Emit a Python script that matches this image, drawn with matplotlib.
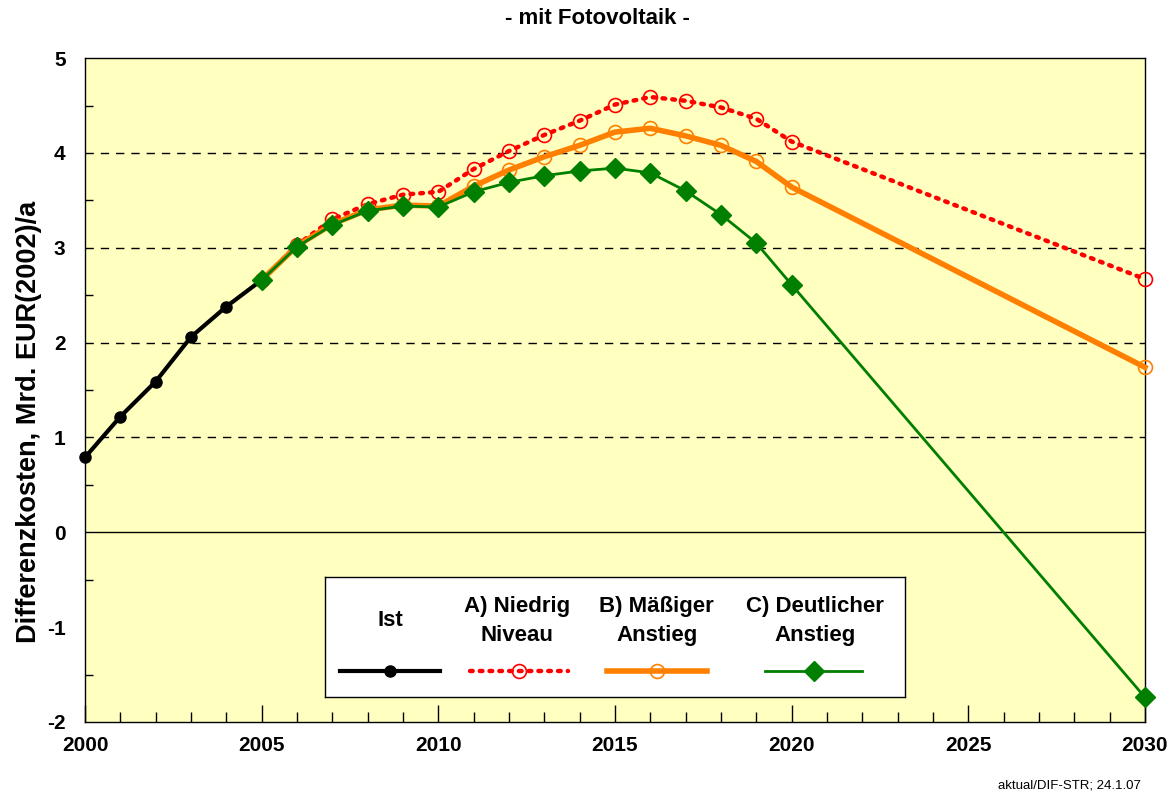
import matplotlib
matplotlib.use("Agg")
import matplotlib.pyplot as plt
from matplotlib.lines import Line2D
import numpy as np

plt.rcParams['font.family'] = ['Liberation Sans', 'DejaVu Sans']
plt.rcParams['font.weight'] = 'bold'
plt.rcParams['axes.unicode_minus'] = False

# Ist-Werte
years_ist = [2000, 2001, 2002, 2003, 2004, 2005]
ist = [0.79, 1.22, 1.59, 2.06, 2.38, 2.66]

# Szenarien ab 2005 (jährlich bis 2020, dann 2030)
years_sz = [2005, 2006, 2007, 2008, 2009, 2010, 2011, 2012, 2013, 2014,
            2015, 2016, 2017, 2018, 2019, 2020, 2030]
niedrig = [2.66, 3.03, 3.30, 3.46, 3.56, 3.59, 3.83, 4.02, 4.19, 4.34,
           4.51, 4.59, 4.55, 4.48, 4.36, 4.12, 2.67]
maessig = [2.66, 3.02, 3.25, 3.40, 3.45, 3.44, 3.65, 3.82, 3.96, 4.08,
           4.22, 4.26, 4.18, 4.08, 3.91, 3.64, 1.74]
deutlich = [2.66, 3.01, 3.24, 3.39, 3.44, 3.43, 3.59, 3.69, 3.76, 3.81,
            3.84, 3.79, 3.60, 3.35, 3.05, 2.61, -1.74]

labels = ['Ist', 'A) Niedrig\nNiveau', 'B) Mäßiger\nAnstieg', 'C) Deutlicher\nAnstieg']

sty_ist = dict(color='black', lw=3, marker='o', ms=8, mfc='black', mec='black')
sty_a = dict(color='#ff0000', lw=3.2, ls=(0, (0.6, 1.6)), dash_capstyle='round',
             marker='o', ms=10, mfc='none', mec='#ff0000', mew=1.2)
sty_b = dict(color='#ff8000', lw=4, marker='o', ms=10, mfc='none', mec='#ff8000', mew=1.2)
sty_c = dict(color='#007f00', lw=2, marker='D', ms=10, mfc='#007f00', mec='#007f00')

fig = plt.figure(figsize=(11.76, 7.96), dpi=100)
ax = fig.add_axes([0.0723, 0.093, 0.9013, 0.834])
ax.set_facecolor('#ffffc0')

ax.plot(years_sz, niedrig, zorder=3, clip_on=False, **sty_a)
ax.plot(years_sz, maessig, zorder=4, clip_on=False, **sty_b)
ax.plot(years_ist, ist, zorder=5, clip_on=False, **sty_ist)
ax.plot(years_sz, deutlich, zorder=6, clip_on=False, **sty_c)

ax.set_xlim(2000, 2030)
ax.set_ylim(-2, 5)
ax.set_xticks(np.arange(2000, 2031, 5))
ax.set_xticks(np.arange(2000, 2031, 1), minor=True)
ax.set_yticks(np.arange(-2, 5.1, 1))
ax.set_yticks(np.arange(-2, 5.1, 0.5), minor=True)
ax.tick_params(axis='x', which='major', direction='in', length=12, width=1, pad=10, labelsize=15)
ax.tick_params(axis='x', which='minor', direction='in', length=7, width=1)
ax.tick_params(axis='y', which='major', direction='in', length=0, pad=14, labelsize=15)
ax.tick_params(axis='y', which='minor', direction='in', length=6, width=1)
for lab in ax.get_xticklabels() + ax.get_yticklabels():
    lab.set_fontweight('bold')

for v in [1, 2, 3, 4]:
    ax.axhline(v, color='black', lw=1, ls=(0, (6, 5)), zorder=1)
ax.axhline(0, color='black', lw=1, zorder=1)
for s in ax.spines.values():
    s.set_color('black')
    s.set_linewidth(1)

ax.set_ylabel('Differenzkosten, Mrd. EUR(2002)/a', fontsize=19.5, fontweight='bold')
ax.yaxis.set_label_coords(-0.041, 0.452)
fig.text(0.508, 0.977, '- mit Fotovoltaik -', ha='center', va='center', fontsize=16, fontweight='bold')
fig.text(0.97, 0.013, 'aktual/DIF-STR; 24.1.07', ha='right', va='center', fontsize=9.5,
         fontweight='normal')

# Legende als eigener Kasten: Text oben, Linienmuster unten
lax = fig.add_axes([0.2764, 0.1244, 0.4932, 0.1508])
lax.set_xlim(0, 1)
lax.set_ylim(0, 1)
lax.set_xticks([])
lax.set_yticks([])
lax.set_facecolor('white')
for s in lax.spines.values():
    s.set_color('black')
    s.set_linewidth(1)
lax.set_zorder(10)

centers = [0.112, 0.331, 0.572, 0.845]
spans = [(0.026, 0.198), (0.25, 0.419), (0.486, 0.659), (0.759, 0.926)]
styles = [sty_ist, sty_a, sty_b, sty_c]
for lab, c, (x0, x1), st in zip(labels, centers, spans, styles):
    lax.text(c, 0.633, lab, ha='center', va='center', fontsize=16, fontweight='bold',
             linespacing=1.55)
    line_st = {k: v for k, v in st.items() if k not in ('marker', 'ms', 'mfc', 'mec', 'mew')}
    mark_st = {k: v for k, v in st.items() if k not in ('color', 'lw', 'ls', 'dash_capstyle')}
    lax.add_line(Line2D([x0, x1], [0.217, 0.217], **line_st))
    lax.add_line(Line2D([(x0 + x1) / 2], [0.217], ls='none', **mark_st))

fig.savefig('out.png', dpi=100)
